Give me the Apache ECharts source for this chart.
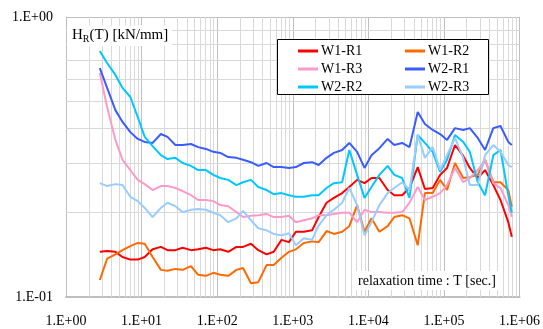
<!DOCTYPE html>
<html>
<head>
<meta charset="utf-8">
<script src="https://cdn.jsdelivr.net/npm/echarts@6/dist/echarts.min.js"></script>
<style>
html,body{margin:0;padding:0;background:#fff;}
#chart{width:543px;height:329px;}
</style>
</head>
<body>
<div id="chart"></div>
<script>
// relaxation time T [sec.]
const tValues = [2.8,3.5,4.5,5.6,7.1,8.9,11,14,18,22,28,35,45,56,71,89,110,140,180,220,280,350,450,560,710,890,1100,1400,1800,2200,2800,3500,4500,5600,7100,8900,11000,14000,18000,22000,28000,35000,45000,56000,71000,89000,110000,140000,180000,220000,280000,350000,450000,560000,710000,790000];

const w1r1 = [0.145,0.146,0.145,0.139,0.136,0.136,0.139,0.148,0.151,0.147,0.147,0.150,0.147,0.148,0.150,0.147,0.148,0.145,0.151,0.151,0.155,0.147,0.142,0.145,0.160,0.157,0.171,0.171,0.173,0.193,0.217,0.226,0.235,0.247,0.262,0.255,0.266,0.266,0.241,0.231,0.231,0.245,0.291,0.243,0.245,0.273,0.289,0.349,0.319,0.289,0.266,0.284,0.251,0.222,0.185,0.164];
const w1r2 = [0.115,0.137,0.142,0.147,0.152,0.156,0.155,0.139,0.125,0.124,0.126,0.125,0.129,0.120,0.119,0.122,0.120,0.119,0.125,0.127,0.112,0.113,0.130,0.130,0.138,0.145,0.148,0.156,0.158,0.157,0.172,0.168,0.171,0.179,0.213,0.171,0.191,0.171,0.179,0.193,0.196,0.191,0.153,0.235,0.235,0.262,0.241,0.301,0.266,0.268,0.273,0.309,0.257,0.257,0.241,0.210];
const w1r3 = [0.631,0.477,0.364,0.309,0.284,0.262,0.253,0.241,0.249,0.249,0.245,0.239,0.231,0.222,0.222,0.220,0.213,0.211,0.201,0.193,0.195,0.196,0.198,0.193,0.193,0.195,0.185,0.188,0.191,0.196,0.196,0.198,0.200,0.200,0.185,0.205,0.201,0.201,0.200,0.200,0.201,0.217,0.247,0.222,0.228,0.235,0.251,0.289,0.257,0.266,0.284,0.309,0.255,0.245,0.213,0.193];
const w2r1 = [0.657,0.558,0.465,0.422,0.388,0.367,0.358,0.355,0.382,0.373,0.349,0.349,0.352,0.343,0.338,0.330,0.327,0.316,0.314,0.309,0.303,0.294,0.301,0.291,0.291,0.289,0.291,0.301,0.303,0.296,0.314,0.327,0.335,0.355,0.330,0.289,0.321,0.340,0.367,0.349,0.355,0.343,0.458,0.415,0.395,0.382,0.364,0.401,0.395,0.401,0.370,0.335,0.401,0.408,0.358,0.349];
const w2r2 = [0.756,0.685,0.621,0.558,0.518,0.439,0.373,0.346,0.321,0.311,0.314,0.301,0.294,0.284,0.284,0.273,0.266,0.262,0.251,0.257,0.262,0.247,0.241,0.233,0.235,0.231,0.228,0.228,0.231,0.231,0.245,0.255,0.257,0.335,0.273,0.226,0.247,0.273,0.294,0.273,0.266,0.226,0.379,0.355,0.330,0.280,0.309,0.379,0.358,0.330,0.257,0.231,0.321,0.335,0.231,0.200];
const w2r3 = [0.255,0.249,0.253,0.251,0.228,0.220,0.208,0.193,0.208,0.217,0.211,0.201,0.205,0.206,0.205,0.200,0.196,0.185,0.191,0.203,0.188,0.176,0.173,0.168,0.166,0.169,0.153,0.162,0.160,0.180,0.196,0.205,0.217,0.245,0.213,0.166,0.185,0.213,0.235,0.245,0.257,0.241,0.379,0.314,0.343,0.284,0.321,0.370,0.314,0.251,0.251,0.321,0.349,0.330,0.296,0.291];

const seriesNames = ['W1-R1','W1-R2','W1-R3','W2-R1','W2-R2','W2-R3'];
const seriesColors = ['#ff0000','#ff6a00','#ff99cc','#3a5cff','#00c8ff','#99ccff'];
const seriesValues = [w1r1,w1r2,w1r3,w2r1,w2r2,w2r3];

const xTickLabels = ['1.E+00','1.E+01','1.E+02','1.E+03','1.E+04','1.E+05','1.E+06'];
const yTickLabels = ['1.E-01','1.E+00'];

// minor grid positions (log axis minor lines)
const minorX = [];
[1,10,100,1000,10000,100000].forEach(d => { for (let k = 2; k <= 9; k++) minorX.push(k * d); });
const minorY = [0.2,0.3,0.4,0.5,0.6,0.7,0.8,0.9];

const FONT = 'Liberation Serif';

const chart = echarts.init(document.getElementById('chart'), null, {renderer: 'canvas'});

const series = seriesNames.map((name, i) => ({
  name: name,
  type: 'line',
  symbol: 'none',
  z: 3,
  lineStyle: {width: 2, color: seriesColors[i]},
  itemStyle: {color: seriesColors[i]},
  data: tValues.map((t, j) => [t, seriesValues[i][j]])
}));

series.push({
  name: 'grid',
  type: 'line',
  data: [],
  z: 1,
  silent: true,
  markLine: {
    z: 1,
    silent: true,
    symbol: 'none',
    animation: false,
    label: {show: false},
    lineStyle: {color: '#d9d9d9', type: 'solid', width: 1},
    data: minorX.map(v => ({xAxis: v})).concat(minorY.map(v => ({yAxis: v})))
  }
});

chart.setOption({
  animation: false,
  backgroundColor: '#fff',
  grid: {left: 66, right: 22, top: 17, bottom: 32, containLabel: false},
  title: [
    {
      text: '{a|H}{b|R}{a|(T) [kN/mm]}',
      left: 67, top: 24,
      padding: [2, 4, 2, 5],
      backgroundColor: '#fff',
      z: 8,
      textStyle: {
        fontWeight: 'normal',
        rich: {
          a: {fontFamily: FONT, fontSize: 15, fontWeight: 'normal', color: '#000', lineHeight: 18},
          b: {fontFamily: FONT, fontSize: 10, fontWeight: 'normal', color: '#000', verticalAlign: 'bottom', lineHeight: 14}
        }
      }
    },
    {
      text: 'relaxation time : T [sec.]',
      left: 355, top: 271,
      padding: [2, 3, 1, 3],
      backgroundColor: '#fff',
      z: 8,
      textStyle: {fontFamily: FONT, fontSize: 14, fontWeight: 'normal', color: '#000', lineHeight: 16}
    }
  ],
  graphic: {
    elements: [{
      type: 'rect',
      z: 8,
      shape: {x: 277.5, y: 39.5, width: 211, height: 55},
      style: {fill: '#fff', stroke: '#000', lineWidth: 1}
    }]
  },
  legend: [
    {
      orient: 'vertical', left: 298, top: 42, padding: 0, itemGap: 0, z: 10,
      icon: 'rect', itemWidth: 20, itemHeight: 3,
      textStyle: {fontFamily: FONT, fontSize: 14, color: '#000', lineHeight: 18, padding: [0,0,0,-2]},
      data: ['W1-R1','W1-R3','W2-R2'],
      selectedMode: false
    },
    {
      orient: 'vertical', left: 405, top: 42, padding: 0, itemGap: 0, z: 10,
      icon: 'rect', itemWidth: 20, itemHeight: 3,
      textStyle: {fontFamily: FONT, fontSize: 14, color: '#000', lineHeight: 18, padding: [0,0,0,-2]},
      data: ['W1-R2','W2-R1','W2-R3'],
      selectedMode: false
    }
  ],
  xAxis: {
    type: 'log', logBase: 10, min: 1, max: 1000000, interval: 1,
    axisLine: {show: true, lineStyle: {color: '#bfbfbf', width: 2}},
    axisTick: {show: false},
    splitLine: {show: true, lineStyle: {color: '#bfbfbf', width: 1}},
    axisLabel: {
      margin: 17, fontFamily: FONT, fontSize: 14, color: '#000',
      formatter: v => xTickLabels[Math.round(Math.log10(v))]
    }
  },
  yAxis: {
    type: 'log', logBase: 10, min: 0.1, max: 1, interval: 1,
    axisLine: {show: true, lineStyle: {color: '#bfbfbf', width: 1}},
    axisTick: {show: false},
    splitLine: {show: true, lineStyle: {color: '#bfbfbf', width: 1}},
    axisLabel: {
      margin: 13, fontFamily: FONT, fontSize: 14, color: '#000',
      formatter: v => yTickLabels[Math.round(Math.log10(v)) + 1]
    }
  },
  series: series
});
</script>
</body>
</html>
